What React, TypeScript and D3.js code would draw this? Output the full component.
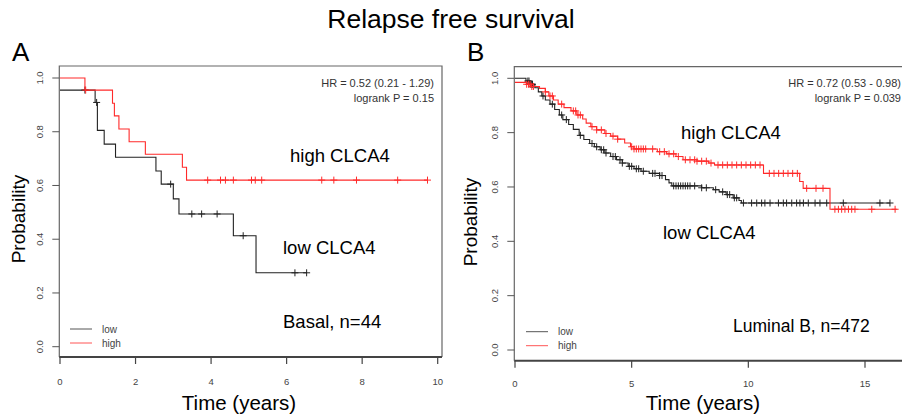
import React from 'react';
import * as d3 from 'd3';

// ---------- Data ----------
// Panel A: Basal, n=44
const basalLowTime = [0, 0.93, 0.99, 1.17, 1.47, 2.54, 2.68, 3.0, 3.15, 4.59, 5.19];
const basalLowSurv = [0.955, 0.909, 0.805, 0.754, 0.705, 0.654, 0.605, 0.55, 0.494, 0.413, 0.275];
const basalLowEnd = 6.53;
const basalLowCensor = [0.66, 0.97, 2.93, 3.49, 3.75, 4.16, 4.85, 6.22, 6.53];

const basalHighTime = [0, 0.66, 1.39, 1.44, 1.56, 1.83, 2.26, 3.24, 3.35];
const basalHighSurv = [1.0, 0.955, 0.906, 0.859, 0.81, 0.763, 0.716, 0.668, 0.62];
const basalHighEnd = 9.73;
const basalHighCensor = [0.68, 3.91, 4.25, 4.38, 4.59, 5.07, 5.17, 5.34, 6.93, 7.25, 7.85, 8.94, 9.73];

// Panel B: Luminal B, n=472
const lumLowTime = [0, 0.47, 0.65, 0.85, 1.0, 1.15, 1.3, 1.5, 1.7, 1.9, 2.05, 2.3, 2.5, 2.75, 2.95, 3.2, 3.4, 3.65, 3.85, 4.1, 4.35, 4.6, 4.85, 5.1, 5.4, 5.75, 6.2, 6.45, 6.6, 6.72, 8.0, 8.5, 8.75, 9.05, 9.35, 9.6, 9.7];
const lumLowSurv = [1.0, 0.99, 0.978, 0.965, 0.95, 0.935, 0.92, 0.905, 0.885, 0.865, 0.848, 0.83, 0.812, 0.79, 0.775, 0.76, 0.748, 0.737, 0.725, 0.712, 0.7, 0.688, 0.676, 0.667, 0.658, 0.65, 0.642, 0.627, 0.615, 0.604, 0.597, 0.59, 0.582, 0.572, 0.56, 0.55, 0.541];
const lumLowEnd = 16.07;
const lumLowCensor = [0.55, 0.6, 0.65, 0.7, 0.75, 1.2, 1.6, 2.0, 2.2, 2.8, 3.3, 3.5, 3.7, 3.8, 3.9, 4.2, 4.3, 4.5, 4.6, 4.9, 5.0, 5.2, 5.3, 5.5, 5.9, 6.0, 6.2, 6.3, 6.8, 6.9, 7.0, 7.1, 7.2, 7.3, 7.4, 7.5, 7.7, 8.0, 8.2, 8.6, 8.9, 9.1, 9.2, 9.4, 9.5, 9.79, 10.14, 10.36, 10.57, 10.71, 10.93, 11.29, 11.5, 11.64, 11.86, 12.07, 12.21, 12.36, 12.57, 12.86, 13.07, 13.36, 14.07, 15.64, 16.07];

const lumHighTime = [0, 0.5, 0.7, 1.05, 1.3, 1.45, 1.65, 1.85, 2.1, 2.4, 2.65, 2.9, 3.05, 3.25, 3.5, 3.85, 4.1, 4.4, 4.7, 4.95, 5.1, 6.1, 6.5, 6.9, 7.2, 7.8, 8.3, 8.55, 10.65, 12.2, 12.35, 13.5];
const lumHighSurv = [0.985, 0.978, 0.97, 0.963, 0.95, 0.935, 0.92, 0.905, 0.892, 0.88, 0.865, 0.85, 0.835, 0.822, 0.81, 0.797, 0.787, 0.776, 0.762, 0.748, 0.74, 0.73, 0.722, 0.712, 0.7, 0.695, 0.688, 0.681, 0.65, 0.62, 0.595, 0.518];
const lumHighEnd = 16.36;
const lumHighCensor = [0.5, 0.58, 0.65, 0.72, 0.79, 1.3, 1.5, 1.6, 2.0, 2.5, 2.6, 2.7, 2.8, 3.3, 3.5, 3.7, 3.9, 4.2, 4.4, 5.0, 5.1, 5.2, 5.3, 5.4, 5.5, 5.6, 5.9, 6.2, 6.4, 6.6, 6.8, 7.0, 7.3, 7.5, 7.7, 7.8, 8.0, 8.2, 8.4, 8.7, 8.9, 9.1, 9.3, 9.5, 9.7, 9.9, 10.1, 10.3, 10.5, 10.9, 11.1, 11.3, 11.5, 11.7, 11.9, 12.1, 12.5, 12.9, 13.2, 13.71, 13.86, 14.0, 14.14, 14.29, 14.43, 14.57, 15.29, 16.29];

const basalTicksX = [0, 2, 4, 6, 8, 10];
const lumTicksX = [0, 5, 10, 15];
const ticksY = [0, 0.2, 0.4, 0.6, 0.8, 1.0];

const FONT = '"Liberation Sans", Arial, Helvetica, sans-serif';
const LOW_COLOR = '#222';
const HIGH_COLOR = '#ff2a2a';

type Curve = { time: number[]; surv: number[]; end: number; censor: number[]; color: string };

function survAt(time: number[], surv: number[], t: number) {
  let s = surv[0];
  for (let i = 0; i < time.length; i++) if (time[i] <= t + 1e-9) s = surv[i];
  return s;
}

type PanelProps = {
  letter: string;
  letterX: number;
  box: { left: number; right: number; top: number; bottom: number };
  xScale: d3.ScaleLinear<number, number>;
  yScale: d3.ScaleLinear<number, number>;
  xTicks: number[];
  curves: Curve[];
  hr: string;
  p: string;
  highLabel: [number, number];
  lowLabel: [number, number];
  subset: string;
  subsetPos: [number, number];
  subsetSize: number;
  legendX: number;
  legendY: number;
  yTickLabelX: number;
  yTitleX: number;
  yTitleY: number;
  xTitleX: number;
  xTitleY: number;
  xTickLabelY: number;
};

function Panel(props: PanelProps) {
  const { box, xScale: x, yScale: y } = props;
  const line = d3
    .line<[number, number]>()
    .x((d) => x(d[0]))
    .y((d) => y(d[1]))
    .curve(d3.curveStepAfter);
  return (
    <g>
      <text x={props.letterX} y={61} fontSize={26} fontFamily={FONT} fill="#000">
        {props.letter}
      </text>
      {/* box */}
      <path
        d={`M${box.left},${box.bottom}V${box.top}H${box.right}V${box.bottom}`}
        fill="none"
        stroke="#666"
        strokeWidth={1.2}
      />
      <line x1={box.left} x2={box.right} y1={box.bottom} y2={box.bottom} stroke="#444" strokeWidth={2} />
      {/* y ticks */}
      {ticksY.map((t) => (
        <g key={'y' + t}>
          <line x1={box.left - 7} x2={box.left} y1={y(t)} y2={y(t)} stroke="#555" strokeWidth={1} />
          <text
            transform={`translate(${props.yTickLabelX},${y(t)}) rotate(-90)`}
            textAnchor="middle"
            dy="0.35em"
            fontSize={9.5}
            fontFamily={FONT}
            fill="#444"
          >
            {t.toFixed(1)}
          </text>
        </g>
      ))}
      {/* x ticks */}
      {props.xTicks.map((t) => (
        <g key={'x' + t}>
          <line x1={x(t)} x2={x(t)} y1={box.bottom} y2={box.bottom + 7} stroke="#444" strokeWidth={1.2} />
          <text
            x={x(t)}
            y={props.xTickLabelY}
            dy="0.35em"
            textAnchor="middle"
            fontSize={9.5}
            fontFamily={FONT}
            fill="#444"
          >
            {t}
          </text>
        </g>
      ))}
      {/* axis titles */}
      <text
        transform={`translate(${props.yTitleX},${props.yTitleY}) rotate(-90)`}
        textAnchor="middle"
        dy="0.35em"
        fontSize={19}
        fontFamily={FONT}
        fill="#000"
      >
        Probability
      </text>
      <text
        x={props.xTitleX}
        y={props.xTitleY}
        dy="0.35em"
        textAnchor="middle"
        fontSize={20.5}
        fontFamily={FONT}
        fill="#000"
      >
        Time (years)
      </text>
      {/* curves */}
      {props.curves.map((c, i) => {
        const pts: [number, number][] = c.time.map((t, k) => [t, c.surv[k]] as [number, number]);
        pts.push([c.end, c.surv[c.surv.length - 1]]);
        return (
          <g key={'c' + i}>
            <path d={line(pts) || ''} fill="none" stroke={c.color} strokeWidth={1.1} />
            {c.censor.map((t, k) => {
              const cx = x(t);
              const cy = y(survAt(c.time, c.surv, t));
              return (
                <path
                  key={k}
                  d={`M${cx - 3.5},${cy}H${cx + 3.5}M${cx},${cy - 3.5}V${cy + 3.5}`}
                  stroke={c.color}
                  strokeWidth={1}
                  fill="none"
                />
              );
            })}
          </g>
        );
      })}
      {/* HR text */}
      <text x={box.right - 8} y={87} textAnchor="end" fontSize={11} fontFamily={FONT} fill="#333">
        {props.hr}
      </text>
      <text x={box.right - 8} y={101.5} textAnchor="end" fontSize={11} fontFamily={FONT} fill="#333">
        {props.p}
      </text>
      <text x={props.highLabel[0]} y={props.highLabel[1]} dy="0.35em" fontSize={18.5} fontFamily={FONT} fill="#000">
        high CLCA4
      </text>
      <text x={props.lowLabel[0]} y={props.lowLabel[1]} dy="0.35em" fontSize={18.5} fontFamily={FONT} fill="#000">
        low CLCA4
      </text>
      <text
        x={props.subsetPos[0]}
        y={props.subsetPos[1]}
        dy="0.35em"
        fontSize={props.subsetSize}
        fontFamily={FONT}
        fill="#000"
      >
        {props.subset}
      </text>
      {/* legend */}
      <line x1={props.legendX} x2={props.legendX + 22} y1={props.legendY} y2={props.legendY} stroke="#555" strokeWidth={1} />
      <line
        x1={props.legendX}
        x2={props.legendX + 22}
        y1={props.legendY + 14}
        y2={props.legendY + 14}
        stroke="#ff5555"
        strokeWidth={1}
      />
      <text x={props.legendX + 32} y={props.legendY} dy="0.35em" fontSize={10} fontFamily={FONT} fill="#444">
        low
      </text>
      <text x={props.legendX + 32} y={props.legendY + 14} dy="0.35em" fontSize={10} fontFamily={FONT} fill="#444">
        high
      </text>
    </g>
  );
}

export default function App() {
  const xA = d3.scaleLinear().domain([0, 10]).range([60, 437.7]);
  const yA = d3.scaleLinear().domain([0, 1]).range([346.7, 78]);
  const xB = d3.scaleLinear().domain([0, 15]).range([515, 865]);
  const yB = d3.scaleLinear().domain([0, 1]).range([350, 78.3]);

  return (
    <svg
      width={902}
      height={419}
      style={{ position: 'absolute', left: 0, top: 0, background: '#fff' }}
    >
      <rect width={902} height={419} fill="#fff" />
      <text x={451} y={28} textAnchor="middle" fontSize={26.5} fontFamily={FONT} fill="#000">
        Relapse free survival
      </text>
      <Panel
        letter="A"
        letterX={12}
        box={{ left: 59.3, right: 442, top: 66, bottom: 357 }}
        xScale={xA}
        yScale={yA}
        xTicks={basalTicksX}
        curves={[
          { time: basalLowTime, surv: basalLowSurv, end: basalLowEnd, censor: basalLowCensor, color: LOW_COLOR },
          { time: basalHighTime, surv: basalHighSurv, end: basalHighEnd, censor: basalHighCensor, color: HIGH_COLOR },
        ]}
        hr="HR = 0.52 (0.21 - 1.29)"
        p="logrank P = 0.15"
        highLabel={[290, 156]}
        lowLabel={[283, 248]}
        subset="Basal, n=44"
        subsetPos={[283, 322]}
        subsetSize={18.5}
        legendX={70}
        legendY={329}
        yTickLabelX={40}
        yTitleX={18}
        yTitleY={219}
        xTitleX={239}
        xTitleY={403}
        xTickLabelY={381.7}
      />
      <Panel
        letter="B"
        letterX={467}
        box={{ left: 514.3, right: 909, top: 66.7, bottom: 360.7 }}
        xScale={xB}
        yScale={yB}
        xTicks={lumTicksX}
        curves={[
          { time: lumLowTime, surv: lumLowSurv, end: lumLowEnd, censor: lumLowCensor, color: LOW_COLOR },
          { time: lumHighTime, surv: lumHighSurv, end: lumHighEnd, censor: lumHighCensor, color: HIGH_COLOR },
        ]}
        hr="HR = 0.72 (0.53 - 0.98)"
        p="logrank P = 0.039"
        highLabel={[681, 133]}
        lowLabel={[663, 233]}
        subset="Luminal B, n=472"
        subsetPos={[733, 326]}
        subsetSize={17.5}
        legendX={526}
        legendY={331.7}
        yTickLabelX={495}
        yTitleX={470.5}
        yTitleY={222}
        xTitleX={703}
        xTitleY={403}
        xTickLabelY={384}
      />
    </svg>
  );
}
